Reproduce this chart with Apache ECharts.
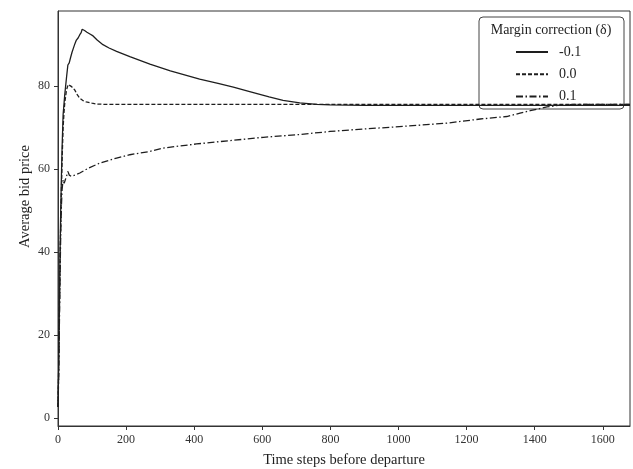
<!DOCTYPE html>
<html>
<head>
<meta charset="utf-8">
<script src="https://cdn.jsdelivr.net/npm/echarts@6/dist/echarts.min.js"></script>
<style>html,body{margin:0;padding:0;background:#fff}#c{width:633px;height:469px}</style>
</head>
<body>
<div id="c"></div>
<script>
// ---- data ----
const seriesNames = ['-0.1', '0.0', '0.1'];

const stepsNeg = [0, 2, 4, 6, 8, 10, 12, 15, 18, 20, 25, 29, 33, 37, 41, 45, 50, 54, 59, 64, 68, 71, 75, 78, 85, 95, 103, 115, 132, 150, 172, 211, 270, 330, 416, 470, 515, 563, 620, 661, 710, 760, 800, 900, 1100, 1300, 1500, 1680];
const valuesNeg = [2.7, 12, 26, 40, 50, 58, 65, 73, 76, 78, 82, 85, 85.5, 86.8, 88, 89, 90.2, 91, 91.5, 92.3, 92.8, 93.6, 93.2, 93.3, 92.9, 92.4, 92.0, 91, 89.9, 89.1, 88.3, 87, 85.2, 83.6, 81.6, 80.6, 79.7, 78.6, 77.3, 76.5, 75.9, 75.5, 75.4, 75.3, 75.3, 75.3, 75.3, 75.3];

const stepsZero = [0, 2, 4, 6, 8, 10, 12, 15, 18, 20, 25, 30, 35, 40, 45, 49, 57, 64, 74, 83, 100, 113, 150, 300, 600, 900, 1200, 1500, 1680];
const valuesZero = [2.7, 12, 25, 38, 47, 55, 62, 70, 74, 76, 79, 80.3, 80.5, 79.8, 79.4, 79, 77.8, 77, 76.4, 76.1, 75.8, 75.6, 75.5, 75.5, 75.5, 75.5, 75.5, 75.5, 75.5];

const stepsPos = [0, 2, 4, 6, 8, 10, 12, 15, 18, 22, 26, 29, 33, 39, 50, 64, 90, 123, 172, 211, 270, 309, 407, 505, 603, 701, 799, 897, 975, 1060, 1142, 1240, 1318, 1357, 1387, 1436, 1480, 1520, 1680];
const valuesPos = [2.7, 10, 22, 34, 44, 51, 55, 57.4, 56.5, 57.5, 58.5, 59.4, 58.5, 58.2, 58.5, 59, 60.2, 61.4, 62.6, 63.4, 64.2, 65, 66, 66.8, 67.6, 68.2, 69, 69.6, 70, 70.5, 71, 72, 72.6, 73.4, 74, 74.9, 75.4, 75.5, 75.5];

const xTicks = [0, 200, 400, 600, 800, 1000, 1200, 1400, 1600];
const yTicks = [0, 20, 40, 60, 80];

// ---- chart ----
function pairs(xs, ys) { return xs.map((x, i) => [x, ys[i]]); }
const FONT = '"Liberation Serif", "DejaVu Serif", serif';
const INK = '#1e1e1e';

const chart = echarts.init(document.getElementById('c'), null, {renderer: 'canvas'});
chart.setOption({
  animation: false,
  backgroundColor: '#fff',
  textStyle: {fontFamily: FONT},
  grid: {left: 58, right: 3, top: 11, bottom: 43, show: true, borderColor: '#333', borderWidth: 1,
         containLabel: false, outerBoundsMode: 'none'},
  xAxis: {
    type: 'value', min: 0, max: 1680,
    name: 'Time steps before departure', nameLocation: 'middle', nameGap: 27, nameMoveOverlap: false,
    nameTextStyle: {fontFamily: FONT, fontSize: 14.5, color: INK},
    axisLine: {show: true, onZero: false, lineStyle: {color: '#333', width: 1}},
    axisTick: {show: true, length: 4, inside: false, customValues: xTicks, lineStyle: {color: '#333'}},
    axisLabel: {customValues: xTicks, formatter: v => String(v), fontFamily: FONT, fontSize: 12, color: '#333', margin: 8},
    splitLine: {show: false}
  },
  yAxis: {
    type: 'value', min: -1.9, max: 98.0,
    name: 'Average bid price', nameLocation: 'middle', nameGap: 25, nameMoveOverlap: false,
    nameTextStyle: {fontFamily: FONT, fontSize: 14.5, color: INK, padding: [0, 0, 0, 44]},
    axisLine: {show: true, onZero: false, lineStyle: {color: '#333', width: 1}},
    axisTick: {show: true, length: 4, inside: false, customValues: yTicks, lineStyle: {color: '#333'}},
    axisLabel: {customValues: yTicks, formatter: v => String(v), fontFamily: FONT, fontSize: 12, color: '#333', margin: 8},
    splitLine: {show: false}
  },
  legend: {
    orient: 'vertical', left: 515, top: 45, itemWidth: 32, itemHeight: 14, itemGap: 8.3,
    padding: 0,
    itemStyle: {opacity: 0},
    textStyle: {fontFamily: FONT, fontSize: 14, color: INK, padding: [0, 0, 0, 6]},
    data: seriesNames
  },
  graphic: [
    {type: 'rect', z: 3, shape: {x: 479, y: 17, width: 145, height: 92, r: 4},
     style: {fill: 'rgba(255,255,255,0.8)', stroke: '#444', lineWidth: 1}},
    {type: 'text', z: 4, x: 551, y: 30,
     style: {text: 'Margin correction (δ)', font: '14px ' + FONT, fill: INK, align: 'center', verticalAlign: 'middle'}}
  ],
  series: [
    {name: seriesNames[0], type: 'line', data: pairs(stepsNeg, valuesNeg), showSymbol: false, symbol: 'none',
     lineStyle: {color: INK, width: 1.3, type: 'solid'}, itemStyle: {color: INK}},
    {name: seriesNames[1], type: 'line', data: pairs(stepsZero, valuesZero), showSymbol: false, symbol: 'none',
     lineStyle: {color: INK, width: 1.3, type: [4, 2]}, itemStyle: {color: INK}},
    {name: seriesNames[2], type: 'line', data: pairs(stepsPos, valuesPos), showSymbol: false, symbol: 'none',
     lineStyle: {color: INK, width: 1.3, type: [7, 2.5, 1.5, 2.5]}, itemStyle: {color: INK}}
  ]
});
</script>
</body>
</html>
